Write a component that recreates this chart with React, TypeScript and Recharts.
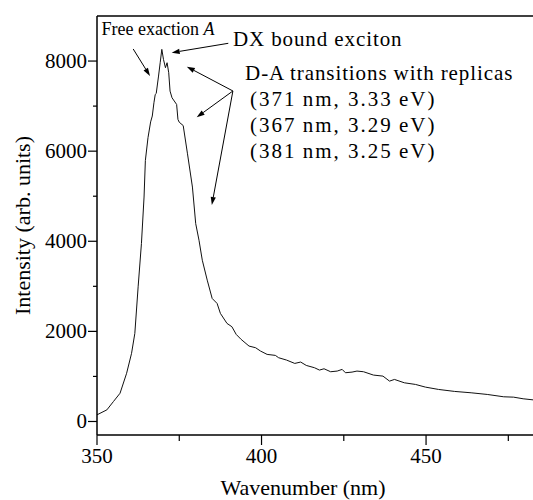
import React from 'react';
import { LineChart, Line, XAxis, YAxis, ReferenceLine, ReferenceDot } from 'recharts';

// ---- data ----
const wavelength = [
  350, 353, 355, 357, 359, 360.5, 361.5, 362.5, 363.5, 364.3, 364.7, 365.5, 366.3, 366.8,
  367.3, 367.7, 368.0, 368.7, 369.2, 369.7, 370.2, 370.8, 371.3, 371.8, 372.2, 372.8, 374.2,
  374.6, 375, 376.2, 377.5, 379, 380, 381, 382, 383.5, 385, 386.5, 387.5, 389.5, 391, 392.3,
  393.8, 396.2, 398.2, 399.7, 401.7, 404.2, 405.2, 407.6, 410.1, 411.9, 413.6, 416.1, 417.6,
  419, 421, 423, 424.5, 425.5, 427.5, 429, 431, 434, 436.9, 438.9, 440.4, 443.4, 446.8, 449.8,
  453.8, 458.7, 463.7, 468.6, 473.6, 476.6, 479.5, 482.5,
];
const intensity = [
  148, 258, 443, 627, 1070, 1513, 1956, 2989, 3948, 4982, 5793, 6300, 6650, 6780,
  7074, 7259, 7280, 7667, 7963, 8259, 8037, 7852, 7963, 7741, 7333, 7185, 7037,
  6704, 6642, 6568, 5941, 5203, 4391, 4022, 3579, 3137, 2731, 2620, 2399, 2177, 2103, 1933,
  1822, 1674, 1637, 1563, 1489, 1467, 1415, 1363, 1289, 1319, 1244, 1193, 1141,
  1170, 1104, 1119, 1156, 1082, 1096, 1119, 1104, 1030, 1007, 896, 933, 859, 822, 763,
  711, 667, 637, 600, 548, 540, 504, 480,
];

const xTicks = [350, 375, 400, 425, 450, 475];
const xMajor = [350, 400, 450];
const yTicks = [0, 1000, 2000, 3000, 4000, 5000, 6000, 7000, 8000];
const yMajor = [0, 2000, 4000, 6000, 8000];

const xTitle = 'Wavenumber (nm)';
const yTitle = 'Intensity (arb. units)';

// annotation texts
const freeLabel = 'Free exaction ';
const freeLabelItalic = 'A';
const dxLabel = 'DX bound exciton';
const daLabel = 'D-A transitions with replicas';
const daLines = [
  '(371\u2009nm, 3.33\u2009eV)',
  '(367\u2009nm, 3.29\u2009eV)',
  '(381\u2009nm, 3.25\u2009eV)',
];

// annotation anchors in data coordinates
const freeTextAt = { x: 351.4, y: 8578 };
const dxTextAt = { x: 391.3, y: 8341 };
const daTextAt = { x: 395.0, y: 7580 };
const daLineX = 396.5;
const daLineY = [7003, 6426, 5849];
const arrows = [
  { from: { x: 361.0, y: 8268 }, to: { x: 366.1, y: 7669 } },
  { from: { x: 389.9, y: 8394 }, to: { x: 372.7, y: 8186 } },
  { from: { x: 391.3, y: 7336 }, to: { x: 377.3, y: 7875 } },
  { from: { x: 391.3, y: 7336 }, to: { x: 380.3, y: 6752 } },
  { from: { x: 391.3, y: 7336 }, to: { x: 384.9, y: 4805 } },
];

const data = wavelength.map((w, i) => ({ x: w, y: intensity[i] }));

const FONT = '"Liberation Serif"';
const fontStyle = (size: number, spacing = 0): React.CSSProperties => ({
  fontFamily: FONT,
  fontSize: size,
  letterSpacing: spacing,
});

const XTick = (p: any) => {
  const { x, y, payload } = p;
  const major = xMajor.includes(payload.value);
  return (
    <g>
      <line x1={x} x2={x} y1={y} y2={y + (major ? 10 : 6)} stroke="#000" strokeWidth={1.2} />
      {major && (
        <text x={x} y={y + 28} textAnchor="middle" style={fontStyle(21)} fill="#000">
          {payload.value}
        </text>
      )}
    </g>
  );
};

const YTick = (p: any) => {
  const { x, y, payload } = p;
  const major = yMajor.includes(payload.value);
  return (
    <g>
      <line x1={x - (major ? 9 : 4)} x2={x} y1={y} y2={y} stroke="#000" strokeWidth={1.2} />
      {major && (
        <text x={x - 10} y={y + 7} textAnchor="end" style={fontStyle(21)} fill="#000">
          {payload.value}
        </text>
      )}
    </g>
  );
};

const Arrow = (p: any) => {
  const { x1, y1, x2, y2 } = p;
  const dx = x2 - x1;
  const dy = y2 - y1;
  const len = Math.hypot(dx, dy) || 1;
  const ux = dx / len;
  const uy = dy / len;
  const hl = 8;
  const hw = 2.6;
  const bx = x2 - ux * hl;
  const by = y2 - uy * hl;
  const pts = `${x2},${y2} ${bx - uy * hw},${by + ux * hw} ${bx + uy * hw},${by - ux * hw}`;
  return (
    <g>
      <line x1={x1} y1={y1} x2={bx} y2={by} stroke="#000" strokeWidth={1} />
      <polygon points={pts} fill="#000" />
    </g>
  );
};

const textShape = (content: React.ReactNode, size: number, spacing = 0) => (p: any) => (
  <text x={p.cx} y={p.cy} style={fontStyle(size, spacing)} fill="#000">
    {content}
  </text>
);

export default function App() {
  return (
    <div style={{ position: 'absolute', left: 0, top: 0, background: '#fff', fontFamily: FONT }}>
      <LineChart width={533} height={500} data={data} margin={{ top: 16, right: 0, bottom: 0, left: 0 }}>
        <XAxis
          type="number"
          dataKey="x"
          domain={[350, 482.5]}
          allowDataOverflow
          ticks={xTicks}
          interval={0}
          tickSize={0}
          tickMargin={0}
          tickLine={false}
          tick={<XTick />}
          height={65}
          axisLine={{ stroke: '#000', strokeWidth: 1.5 }}
          label={{
            content: (lp: any) => {
              const vb = lp.viewBox || {};
              const cx = vb.x + vb.width / 2 - 12;
              return (
                <text x={cx} y={495} textAnchor="middle" style={fontStyle(22)} fill="#000">
                  {xTitle}
                </text>
              );
            },
          }}
        />
        <YAxis
          type="number"
          domain={[-300, 9000]}
          allowDataOverflow
          ticks={yTicks}
          interval={0}
          tickSize={0}
          tickMargin={0}
          tickLine={false}
          tick={<YTick />}
          width={97}
          axisLine={{ stroke: '#000', strokeWidth: 1.5 }}
          label={{
            content: (lp: any) => {
              const vb = lp.viewBox || {};
              const cx = 22;
              const cy = vb.y + vb.height / 2;
              return (
                <text
                  x={cx}
                  y={cy}
                  transform={`rotate(-90 ${cx} ${cy})`}
                  textAnchor="middle"
                  dominantBaseline="central"
                  style={fontStyle(22)}
                  fill="#000"
                >
                  {yTitle}
                </text>
              );
            },
          }}
        />
        <ReferenceLine y={9000} stroke="#000" strokeWidth={1.5} ifOverflow="visible" />
        <Line
          type="linear"
          dataKey="y"
          stroke="#111"
          strokeWidth={1}
          dot={false}
          isAnimationActive={false}
        />
        {arrows.map((a, i) => (
          <ReferenceLine
            key={'a' + i}
            segment={[a.from, a.to]}
            ifOverflow="visible"
            shape={<Arrow />}
          />
        ))}
        <ReferenceDot
          x={freeTextAt.x}
          y={freeTextAt.y}
          r={0}
          ifOverflow="visible"
          shape={textShape(
            <>
              {freeLabel}
              <tspan style={{ fontStyle: 'italic' }}>{freeLabelItalic}</tspan>
            </>,
            18
          )}
        />
        <ReferenceDot x={dxTextAt.x} y={dxTextAt.y} r={0} ifOverflow="visible" shape={textShape(dxLabel, 21, 0.9)} />
        <ReferenceDot x={daTextAt.x} y={daTextAt.y} r={0} ifOverflow="visible" shape={textShape(daLabel, 21, 0.9)} />
        {daLines.map((t, i) => (
          <ReferenceDot
            key={'d' + i}
            x={daLineX}
            y={daLineY[i]}
            r={0}
            ifOverflow="visible"
            shape={textShape(t, 21, 2)}
          />
        ))}
      </LineChart>
    </div>
  );
}
